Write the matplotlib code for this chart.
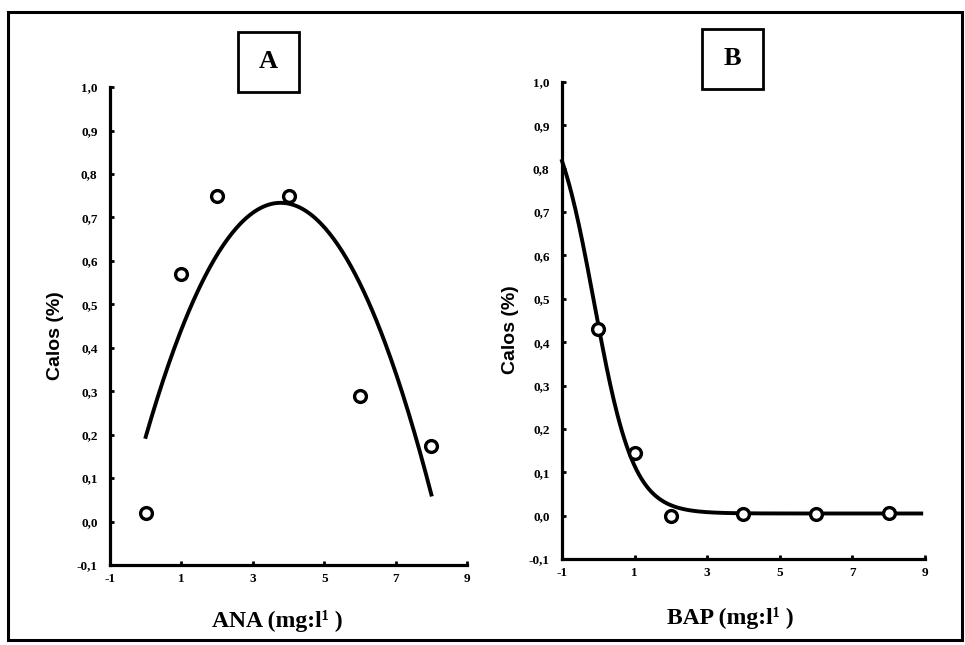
import numpy as np
import matplotlib
matplotlib.use("Agg")
import matplotlib.pyplot as plt
from matplotlib.patches import Rectangle

plt.rcParams['font.family'] = ['Liberation Serif', 'DejaVu Serif']
plt.rcParams['font.weight'] = 'bold'

# panel A: ANA
ana_x = [0, 1, 2, 4, 6, 8]
ana_y = [0.02, 0.57, 0.75, 0.75, 0.29, 0.175]
# quadratic fit: c0 + c1*x + c2*x^2, drawn for x 0..8
ana_fit = [0.195, 0.285, -0.0377]
ana_fit_range = [0, 8]

# panel B: BAP
bap_x = [0, 1, 2, 4, 6, 8]
bap_y = [0.43, 0.145, 0.0, 0.003, 0.003, 0.005]
# logistic fit: base, amplitude, slope, centre
bap_fit = [0.005, 0.97, 1.85, -0.112]
bap_fit_range = [-1, 8.9]

xticks = [-1, 1, 3, 5, 7, 9]
xtick_labels = ['-1', '1', '3', '5', '7', '9']
yticks = [-0.1, 0.0, 0.1, 0.2, 0.3, 0.4, 0.5, 0.6, 0.7, 0.8, 0.9, 1.0]
ytick_labels = ['-0,1', '0,0', '0,1', '0,2', '0,3', '0,4', '0,5', '0,6', '0,7', '0,8', '0,9', '1,0']


def quad(x, c):
    return c[0] + c[1] * x + c[2] * x ** 2


def logistic(x, p):
    return p[0] + p[1] / (1 + np.exp(p[2] * (x - p[3])))


fig = plt.figure(figsize=(9.65, 6.45), dpi=100)

# outer frame
fig.add_artist(Rectangle((8 / 965, 1 - 640 / 645), 954 / 965, 628 / 645,
                         transform=fig.transFigure, fill=False, lw=2.2, color='black'))


def style_axes(ax, xlabel, ylab_x, xlab_x, xlab_y):
    ax.set_xlim(-1, 9)
    ax.set_ylim(-0.1, 1.0)
    for s in ['top', 'right']:
        ax.spines[s].set_visible(False)
    for s in ['left', 'bottom']:
        ax.spines[s].set_linewidth(2.3)
    ax.set_xticks(xticks)
    ax.set_xticklabels(xtick_labels)
    ax.set_yticks(yticks)
    ax.set_yticklabels(ytick_labels)
    ax.tick_params(direction='in', length=3, width=2, labelsize=9.5, pad=6)
    ax.tick_params(axis='y', pad=9)
    ax.set_ylabel('Calos (%)', fontsize=14, fontweight='bold',
                  family=['Liberation Sans', 'DejaVu Sans'])
    ax.yaxis.set_label_coords(ylab_x, 0.48)
    ax.set_xlabel(xlabel, fontsize=17, fontweight='bold')
    ax.xaxis.set_label_coords(xlab_x, xlab_y)


axA = fig.add_axes([0.114, 0.124, 0.370, 0.741])
xa = np.linspace(ana_fit_range[0], ana_fit_range[1], 200)
axA.plot(xa, quad(xa, ana_fit), color='black', lw=2.8, clip_on=False)
axA.plot(ana_x, ana_y, 'o', mfc='white', mec='black', ms=8.5, mew=2.4, clip_on=False)
style_axes(axA, 'ANA (mg:l¹ )', -0.13, 0.468, -0.094)

axB = fig.add_axes([0.5824, 0.1333, 0.376, 0.7395])
xb = np.linspace(bap_fit_range[0], bap_fit_range[1], 300)
axB.plot(xb, logistic(xb, bap_fit), color='black', lw=2.8, clip_on=False)
axB.plot(bap_x, bap_y, 'o', mfc='white', mec='black', ms=8.5, mew=2.4, clip_on=False)
style_axes(axB, 'BAP (mg:l¹ )', -0.118, 0.463, -0.10)

# panel letters in boxes
for cx, cy, letter in [(268.5, 62, 'A'), (732.5, 58.5, 'B')]:
    fig.add_artist(Rectangle(((cx - 30.5) / 965, 1 - (cy + 30) / 645), 61 / 965, 60 / 645,
                             transform=fig.transFigure, fill=False, lw=2.0, color='black'))
    fig.text(cx / 965, 1 - cy / 645, letter, ha='center', va='center',
             fontsize=19, fontweight='bold')

fig.savefig('out.png', dpi=100)
